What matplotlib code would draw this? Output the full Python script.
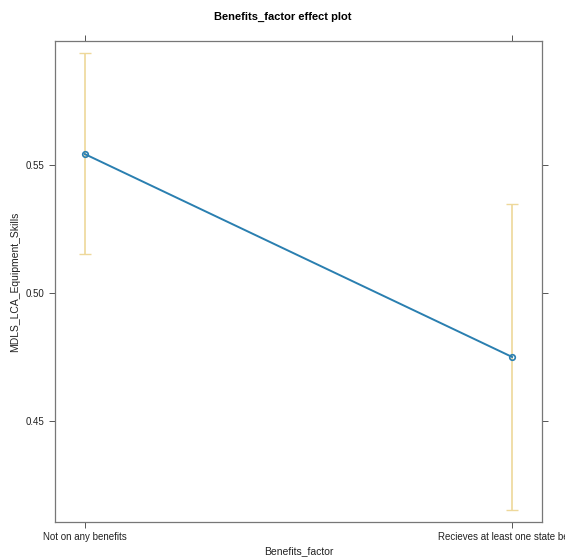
import numpy as np
import matplotlib
matplotlib.use("Agg")
from matplotlib import pyplot as plt

categories = ["Not on any benefits", "Recieves at least one state benefit"]
fit = [0.5543, 0.4751]
lower = [0.5154, 0.4154]
upper = [0.5936, 0.5348]

plt.rcParams['font.family'] = ['Liberation Sans', 'DejaVu Sans']

fig = plt.figure(figsize=(5.65, 5.6), dpi=100)
ax = fig.add_axes([0.0973, 0.068, 0.862, 0.859])

x = np.arange(1, len(categories) + 1)
fit = np.array(fit)
lower = np.array(lower)
upper = np.array(upper)

ax.errorbar(x, fit, yerr=[fit - lower, upper - fit], fmt='none',
            ecolor='#eed89a', elinewidth=1.2, capsize=4, capthick=1.0, zorder=1)
ax.plot(x, fit, color='#2a7fb0', lw=1.4, marker='o', ms=4,
        mfc='none', mec='#2a7fb0', mew=1.2, zorder=2)

ax.set_xlim(0.93, 2.07)
ax.set_ylim(0.4107, 0.5985)
ax.set_xticks(x)
# the long label runs off the right edge, same as in the original
ax.set_xticklabels(categories)
ax.set_yticks([0.45, 0.50, 0.55])
ax.set_yticklabels(["0.45", "0.50", "0.55"])

ax.tick_params(axis='both', direction='out', length=4, width=0.7, colors='#555555',
               labelcolor='#222222', labelsize=7,
               top=True, right=True, labeltop=False, labelright=False)
for s in ax.spines.values():
    s.set_color('#777777')
    s.set_linewidth(0.9)

ax.set_xlabel("Benefits_factor", fontsize=7.5, color='#222222', labelpad=3)
ax.set_ylabel("MDLS_LCA_Equipment_Skills", fontsize=7.5, color='#222222', labelpad=4)
fig.suptitle("Benefits_factor effect plot", fontsize=8, fontweight='bold', y=0.978, x=0.5)

fig.savefig("out.png", dpi=100)
